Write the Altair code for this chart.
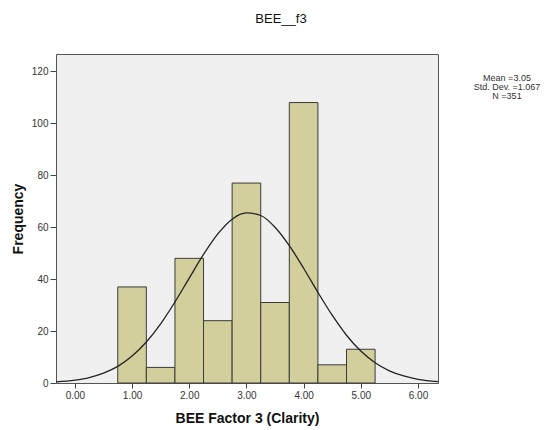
import altair as alt
import pandas as pd

# Histogram bins (BEE Factor 3 scores), bin width 0.5
bin_start = [0.75, 1.25, 1.75, 2.25, 2.75, 3.25, 3.75, 4.25, 4.75]
bin_end = [1.25, 1.75, 2.25, 2.75, 3.25, 3.75, 4.25, 4.75, 5.25]
frequency = [37, 6, 48, 24, 77, 31, 108, 7, 13]

# Normal curve
curve_x = [-0.33, 0.0, 0.25, 0.5, 0.75, 1.0, 1.25, 1.5, 1.75, 2.0, 2.25, 2.5, 2.75,
           3.0, 3.25, 3.5, 3.75, 4.0, 4.25, 4.5, 4.75, 5.0, 5.25, 5.5, 5.75, 6.0, 6.35]
curve_y = [0.4, 1.1, 2.1, 3.8, 6.4, 10.4, 15.8, 22.8, 31.2, 40.4, 49.5, 57.4, 63.1,
           65.5, 64.5, 60.0, 52.9, 44.2, 34.9, 26.1, 18.4, 12.3, 7.8, 4.7, 2.7, 1.4, 0.55]

stats_lines = ["Mean =3.05", "Std. Dev. =1.067", "N =351"]
x_ticks = [0, 1, 2, 3, 4, 5, 6]
y_ticks = [0, 20, 40, 60, 80, 100, 120]

FONT = "Liberation Sans"

bars_df = pd.DataFrame({"start": bin_start, "end": bin_end, "freq": frequency})
curve_df = pd.DataFrame({"x": curve_x, "y": curve_y})
stats_df = pd.DataFrame({"text": ["\n".join(stats_lines)]})

xscale = alt.Scale(domain=[-0.33, 6.35], nice=False, zero=False)
yscale = alt.Scale(domain=[0, 126.7], nice=False)

bars = alt.Chart(bars_df).mark_bar(
    fill="#d3cf9c", stroke="#3a3a3a", strokeWidth=1, opacity=1
).encode(
    x=alt.X("start:Q", scale=xscale,
            axis=alt.Axis(values=x_ticks, format=".2f", title="BEE Factor 3 (Clarity)",
                          grid=False, domain=False, tickSize=5, tickColor="#444",
                          labelPadding=2, labelFontSize=10, labelColor="#333",
                          labelFont=FONT, titleFont=FONT, titleFontSize=14,
                          titleFontWeight="bold", titleColor="#111", titlePadding=11)),
    x2="end:Q",
    y=alt.Y("freq:Q", scale=yscale,
            axis=alt.Axis(values=y_ticks, title="Frequency", grid=False, domain=False,
                          tickSize=6, tickColor="#444", labelPadding=2, labelFontSize=10,
                          labelColor="#333", labelFont=FONT, titleFont=FONT,
                          titleFontSize=14, titleFontWeight="bold", titleColor="#111",
                          titlePadding=6)),
    y2=alt.datum(0),
)

curve = alt.Chart(curve_df).mark_line(
    color="#222", strokeWidth=1.3, interpolate="monotone"
).encode(
    x=alt.X("x:Q", scale=xscale),
    y=alt.Y("y:Q", scale=yscale),
)

stats = alt.Chart(stats_df).mark_text(
    align="center", baseline="top", fontSize=9, font=FONT, color="#333",
    lineBreak="\n", lineHeight=9
).encode(
    text="text:N",
    x=alt.value(451),
    y=alt.value(20),
)

chart = alt.layer(bars, curve, stats).properties(
    width=382,
    height=329,
    title=alt.TitleParams("BEE__f3", font=FONT, fontSize=13, fontWeight="normal",
                          color="#111", anchor="middle", dx=34, offset=28),
    padding={"left": 56, "top": 54, "right": 118, "bottom": 47},
    autosize=alt.AutoSizeParams(type="none"),
    background="white",
).configure_view(
    fill="#f0f0f0", stroke="#555", strokeWidth=1
)

chart.save("out.html", embed_options={"renderer": "svg", "actions": False})
